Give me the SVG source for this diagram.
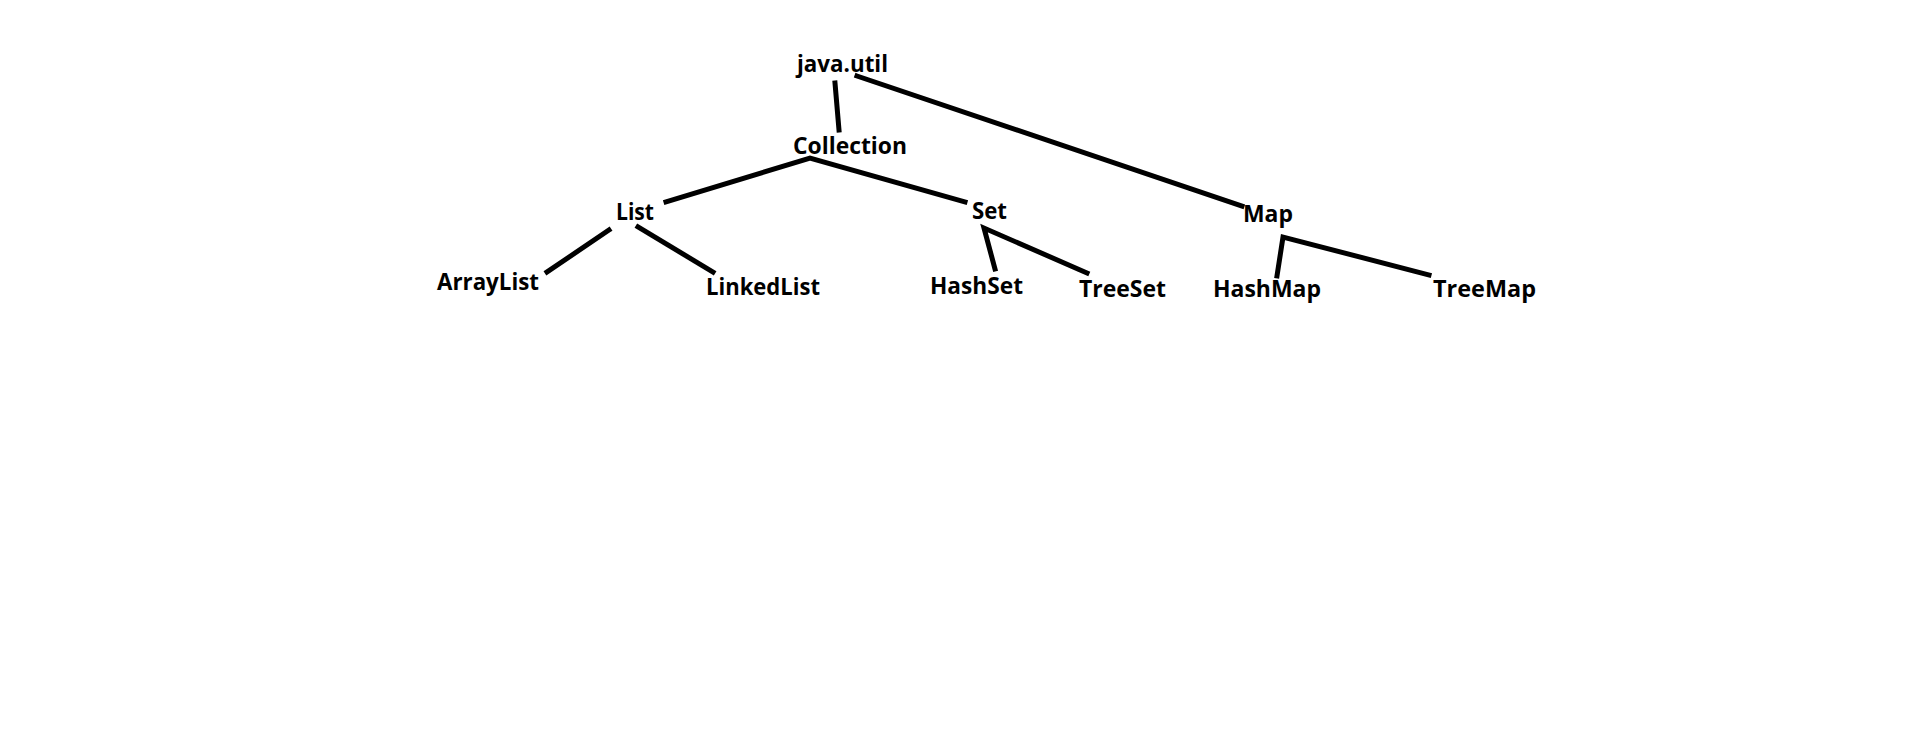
<svg xmlns="http://www.w3.org/2000/svg" width="1908" height="743" viewBox="0 0 1908 743">
<style>
.t{font-family:"Open Sans","Liberation Sans",sans-serif;font-weight:bold;font-size:23.5px;fill:#000}
.c{fill:none;stroke:#000;stroke-width:5;stroke-linecap:square;stroke-linejoin:miter}
</style>
<rect width="1908" height="743" fill="#fff"/>
<g id="connectors">
<polyline class="c" points="835,83 839,130"/>
<polyline class="c" points="857,76 1242,206"/>
<polyline class="c" points="666,202 810,158 965,202"/>
<polyline class="c" points="609,230 547,272"/>
<polyline class="c" points="638,227 713,272"/>
<polyline class="c" points="995,269 984,228 1087,273"/>
<polyline class="c" points="1277,276 1283,237 1429,275"/>
</g>
<g id="java-util"><text class="t" x="797" y="72" textLength="91" lengthAdjust="spacingAndGlyphs">java.util</text></g>
<g id="collection"><text class="t" x="793" y="154" textLength="114" lengthAdjust="spacingAndGlyphs">Collection</text></g>
<g id="list"><text class="t" x="616" y="220" textLength="38" lengthAdjust="spacingAndGlyphs">List</text></g>
<g id="set"><text class="t" x="972" y="219" textLength="35" lengthAdjust="spacingAndGlyphs">Set</text></g>
<g id="map"><text class="t" x="1243" y="222" textLength="50" lengthAdjust="spacingAndGlyphs">Map</text></g>
<g id="arraylist"><text class="t" x="437" y="290" textLength="102" lengthAdjust="spacingAndGlyphs">ArrayList</text></g>
<g id="linkedlist"><text class="t" x="706" y="295" textLength="114" lengthAdjust="spacingAndGlyphs">LinkedList</text></g>
<g id="hashset"><text class="t" x="930" y="294" textLength="93" lengthAdjust="spacingAndGlyphs">HashSet</text></g>
<g id="treeset"><text class="t" x="1079" y="297" textLength="87" lengthAdjust="spacingAndGlyphs">TreeSet</text></g>
<g id="hashmap"><text class="t" x="1213" y="297" textLength="108" lengthAdjust="spacingAndGlyphs">HashMap</text></g>
<g id="treemap"><text class="t" x="1433" y="297" textLength="103" lengthAdjust="spacingAndGlyphs">TreeMap</text></g>
</svg>
